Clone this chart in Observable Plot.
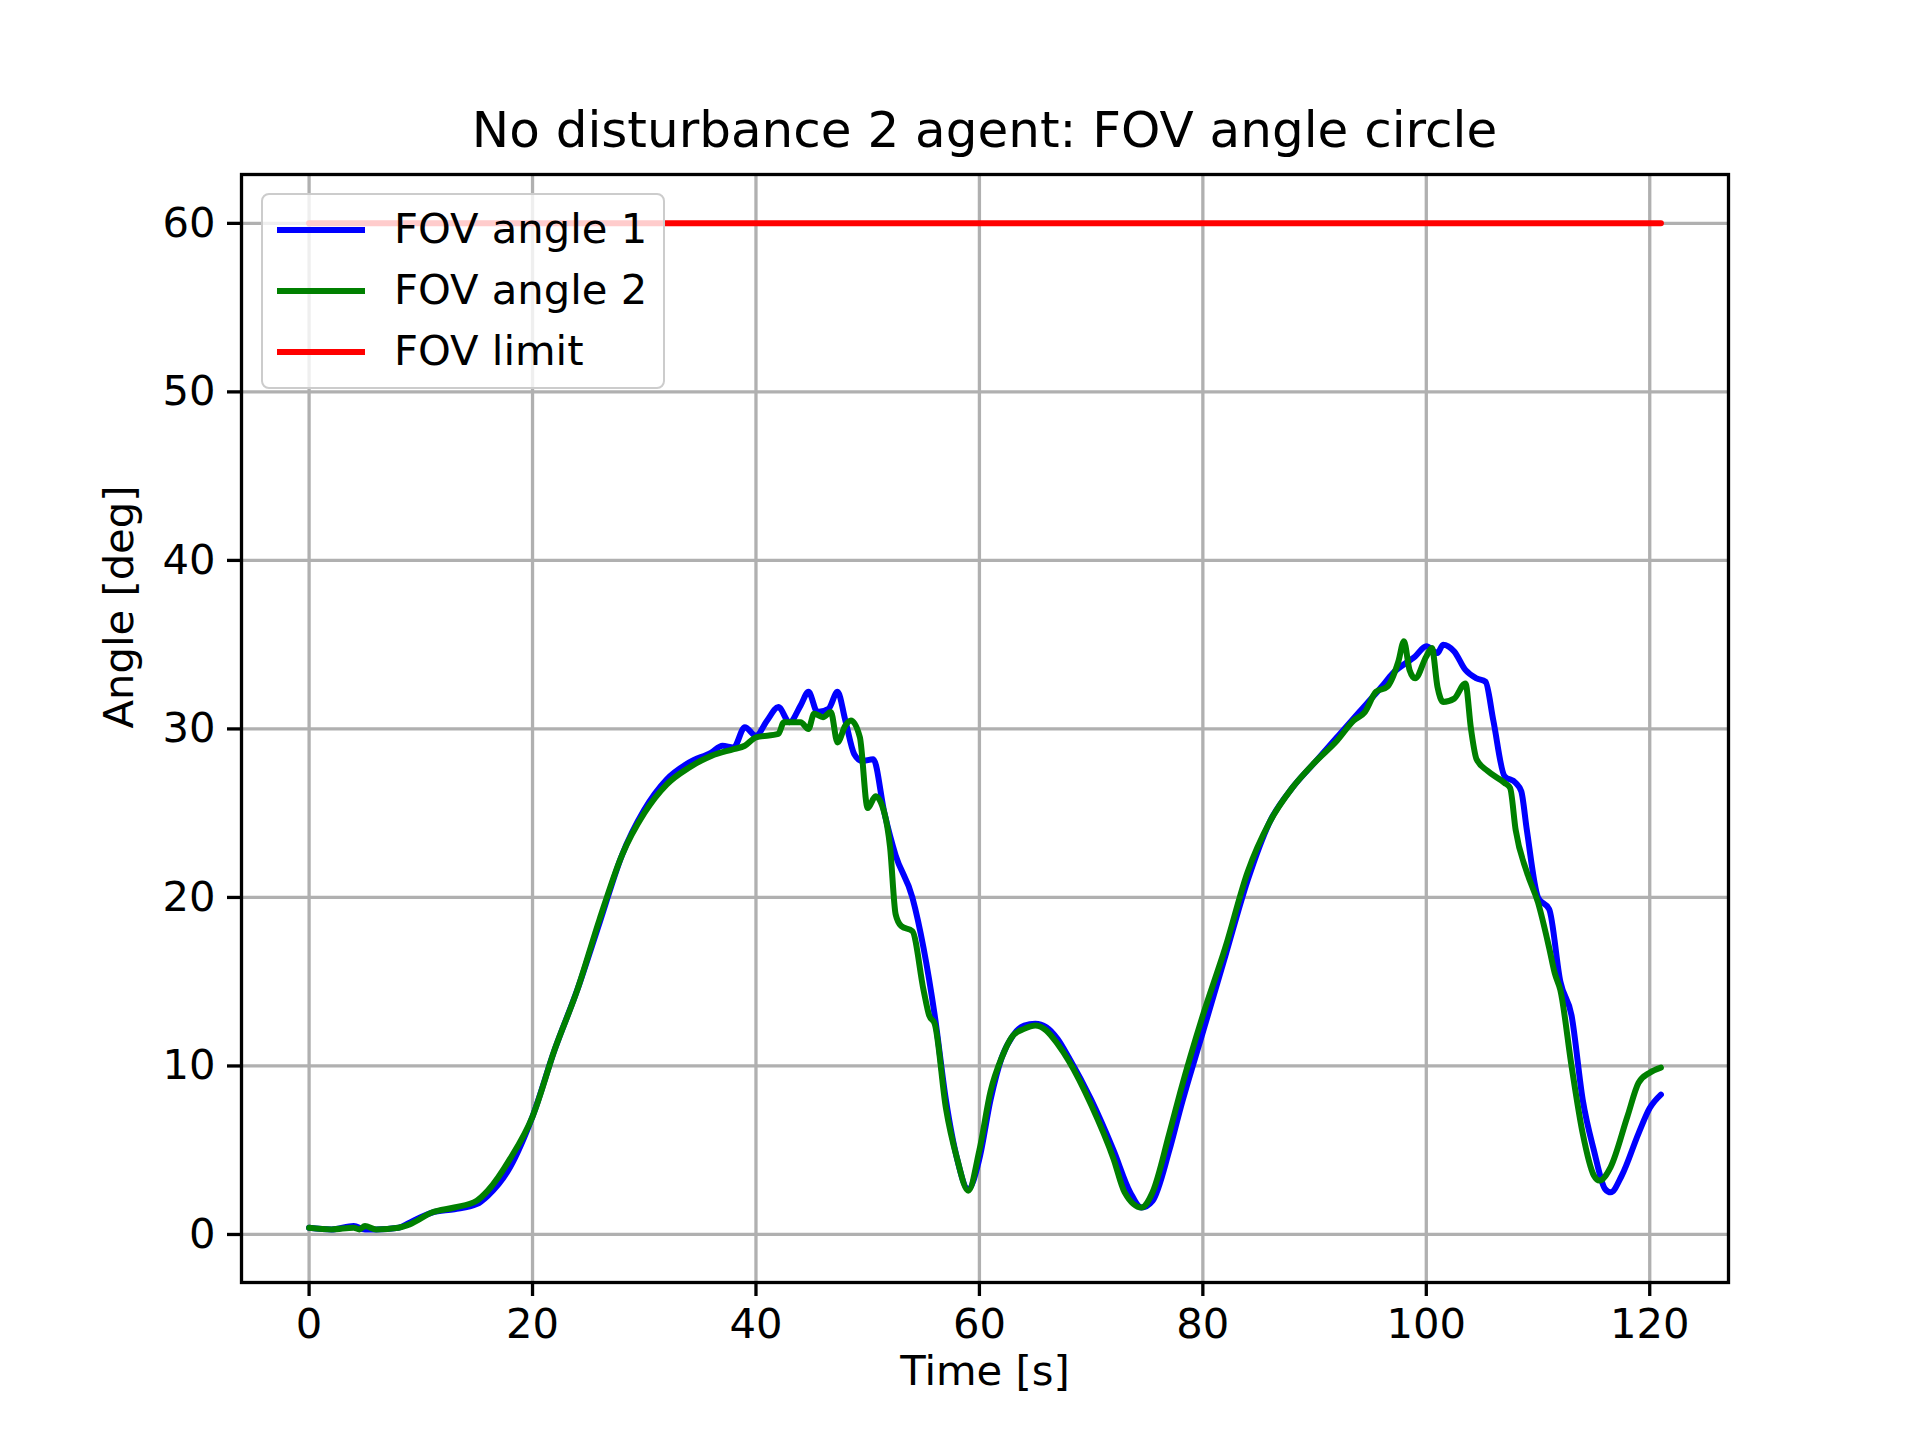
<!DOCTYPE html>
<html><head><meta charset="utf-8">
<script src="https://cdn.jsdelivr.net/npm/d3@7"></script>
<script src="https://cdn.jsdelivr.net/npm/@observablehq/plot@0.6"></script>
<style>body{margin:0;background:#fff;font-family:"DejaVu Sans",sans-serif}
#wrap{position:relative;width:1920px;height:1440px}
#title{position:absolute;top:100px;left:241px;width:1487px;text-align:center;font-size:50px;line-height:60px}
#legend{position:absolute;left:261px;top:193px;width:400px;height:192px;background:rgba(255,255,255,0.8);border:2px solid #cccccc;border-radius:8px;font-size:41.7px}
.row{position:absolute;left:0;height:50px}
.sw{position:absolute;left:14px;top:23px;width:88px;height:6px}
.lb{position:absolute;left:131px;top:0;white-space:nowrap;line-height:50px}
</style></head><body>
<div id="wrap"><div id="title">No disturbance 2 agent: FOV angle circle</div><div id="chart"></div>
<div id="legend"></div></div>
<script>
const blueT=[0,2,4,5,6,8,9,11,13,15,16,18,20,22,24,26,28,30,32,34,36,37,38,39,40,41,42,43,44,44.7,45.5,46.5,47.3,48,48.8,49.5,50.5,51.5,52.5,54,55,56,57,58,59,60,61,62,63,64,65,66,67,68,70,72,73.5,74.5,75.5,77,78,80,82,84,86,88,90,92,94,96,97,99,100,101,101.5,102.5,103.5,104.5,105.3,106,107,108,108.5,109,110,111,112,113,114,115,116,116.5,117.5,119,120,121];
const blueY=[0.4,0.3,0.5,0.3,0.3,0.4,0.7,1.3,1.5,1.8,2.3,4,7,11,14.5,18.5,22.5,25.2,27,28,28.6,29,28.9,30.1,29.6,30.5,31.3,30.4,31.4,32.2,31,31.2,32.2,30.5,28.5,28.1,28.2,25,22.5,20,17,13,8,4.5,2.7,4.5,8,10.5,11.8,12.4,12.5,12.3,11.6,10.5,8,5,2.5,1.6,2,5,7.5,12,16.5,21,24.5,26.5,28,29.5,31,32.5,33.3,34.3,34.9,34.5,35,34.6,33.5,33,32.8,30.5,27.2,26.8,26.3,24,20,19.3,15,13,8,5,2.7,2.5,3.5,6,7.5,8.3];
const greenT=[0,2,4,4.5,5,6,8,9,11,13,15,16,18,20,22,24,26,28,30,32,34,36,38,39,40,42,42.5,44,44.7,45.2,46,46.7,47.3,48,48.5,49.3,50,50.7,51.5,52,52.5,53,54,55,55.5,56,57,58,59,60,61,62,63,64,65,66,67,68,70,72,73,74.5,75.5,77,78,80,82,84,86,88,90,92,93.5,94.5,95.5,96.5,97.5,98,98.5,99,100,100.5,101,101.5,102.5,103.5,104,104.5,105.5,107,107.5,108,109,110,111,111.5,112,113,114,115,115.5,116.5,118,119,120,121];
const greenY=[0.4,0.3,0.4,0.3,0.5,0.3,0.4,0.6,1.3,1.6,2,2.6,4.5,7,11,14.5,18.7,22.5,25,26.7,27.7,28.4,28.8,29,29.5,29.7,30.4,30.4,30,30.9,30.7,31,29.2,30.2,30.5,29.5,25.3,26,25,23,19,18.3,18,14.5,13,12.5,7.5,4.5,2.6,5,8.5,10.5,11.8,12.2,12.4,12.1,11.3,10.3,7.7,4.5,2.5,1.6,2.5,6,8.5,13,17,21.5,24.5,26.5,28,29.3,30.5,31,32.2,32.5,34,35.2,33.5,33,34.3,34.8,32.5,31.6,31.8,32.7,30,28.2,27.5,26.8,26.5,24,21.5,19.7,17,15.5,14.5,10,6,3.5,3.2,4,7,9,9.6,9.9];
const limitT=[0,121], limitY=[60,60];
const xTicks=[0,20,40,60,80,100,120], yTicks=[0,10,20,30,40,50,60];
const series=[["FOV angle 1","blue",blueT,blueY],["FOV angle 2","green",greenT,greenY],["FOV limit","red",limitT,limitY]];
const data=series.flatMap(([name,color,t,y])=>t.map((v,i)=>({name,color,t:v,y:y[i]})));
const chart=Plot.plot({width:1920,height:1440,marginLeft:241,marginRight:192,marginTop:174,marginBottom:158,
 style:{fontFamily:"DejaVu Sans",fontSize:"41.7px",background:"white"},
 x:{domain:[-6.05,127.05],ticks:xTicks,label:null},
 y:{domain:[-2.85,62.9],ticks:yTicks,label:null},
 marks:[
  Plot.gridX(xTicks,{stroke:"#b0b0b0",strokeOpacity:1,strokeWidth:3.3}),
  Plot.gridY(yTicks,{stroke:"#b0b0b0",strokeOpacity:1,strokeWidth:3.3}),
  ...series.map(([name,color])=>Plot.line(data.filter(d=>d.name===name),{x:"t",y:"y",stroke:color,strokeWidth:6,curve:"monotone-x"})),
  Plot.axisX(xTicks,{tickSize:14,tickPadding:12,fontSize:41.7,fill:"black",strokeWidth:3.3}),
  Plot.axisY(yTicks,{tickSize:14,tickPadding:12,fontSize:41.7,fill:"black",strokeWidth:3.3}),
  Plot.frame({stroke:"black",strokeWidth:3.3}),
  Plot.text(["Time [s]"],{frameAnchor:"bottom",dy:102,fontSize:41.7,fill:"black"}),
  Plot.text(["Angle [deg]"],{frameAnchor:"left",dx:-122,rotate:-90,fontSize:41.7,fill:"black"})
 ]});
document.getElementById("chart").appendChild(chart);
const lg=document.getElementById("legend");
series.forEach(([name,color],i)=>{const r=document.createElement("div");r.className="row";r.style.top=(9+i*61)+"px";
 r.innerHTML=`<div class="sw" style="background:${color}"></div><div class="lb">${name}</div>`;lg.appendChild(r);});
</script></body></html>
